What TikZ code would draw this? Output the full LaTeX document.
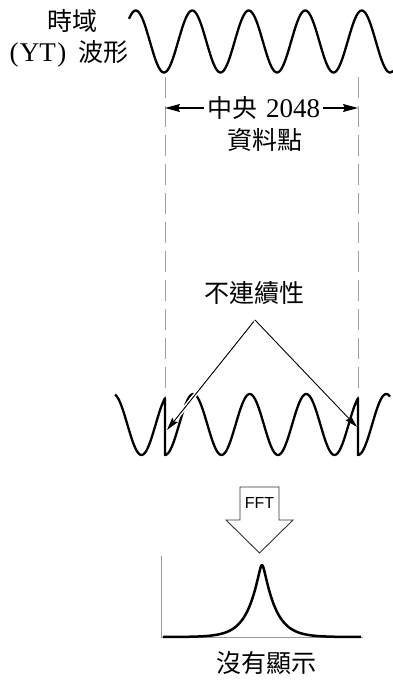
\documentclass[tikz,border=0pt]{standalone}
\usepackage{fontspec}
\setmainfont{Liberation Serif}
\newfontfamily\cjk{Noto Sans CJK TC}
\newfontfamily\sansf{Liberation Sans}
\usetikzlibrary{arrows.meta, positioning, calc}
\tikzset{
    wave/.style={line width=2.3pt, line join=round},
    guide/.style={draw=gray!75, line width=0.9pt, dash pattern=on 21pt off 8pt},
    span/.style={line width=1.1pt, -{Stealth[length=15pt,width=8pt,inset=2pt]}},
    pointer/.style={line width=0.9pt, -{Stealth[length=13pt,width=7pt,inset=2pt]},
        preaction={draw=white, line width=4pt, -, shorten >=14pt}},
    cjktext/.style={font=\cjk\fontsize{25}{30}\selectfont, inner sep=3pt},
    fftarrow/.style={draw=black!80, line width=0.9pt, line join=miter},
    axis/.style={draw=gray!80, line width=1pt},
    spectrum/.style={line width=2.5pt, line join=round}
}
\begin{document}
\begin{tikzpicture}[x=1pt, y=-1pt]
    \useasboundingbox (0,0) rectangle (393,683);
    \def\per{56.5}
    % time record
    \node[cjktext] (domainA) at (72,21) {時域};
    \node[cjktext] (domainB) at (69,54) {{\rmfamily\fontsize{27}{30}\selectfont (\kern1.5pt YT\kern1.5pt)}\hspace{12pt}波形};
    \draw[wave] plot[domain=129:393, samples=240] (\x, {41.5+31*cos((\x-164)/\per*360)});

    \coordinate (glTop) at (165,77);
    \coordinate (glBot) at (165,400);
    \coordinate (grTop) at (358,77);
    \coordinate (grBot) at (358,400);
    \draw[guide] (glTop) -- (glBot);
    \draw[guide] (grTop) -- (grBot);

    \node[cjktext] (middle) at (263.5,108) {中央\hspace{9pt}{\rmfamily\fontsize{27}{30}\selectfont 2048}};
    \draw[span] (middle.west) -- (middle.west -| glTop);
    \draw[span] (middle.east) -- (middle.east -| grTop);
    \node[cjktext] (points) at (265,140) {資料點};

    % repeated record
    \draw[wave] plot[domain=115:165, samples=60] (\x, {424.5+30.5*cos((\x+193-165)/\per*360)})
        -- plot[domain=165:358, samples=200] (\x, {424.5+30.5*cos((\x-165)/\per*360)})
        -- plot[domain=358:390, samples=40] (\x, {424.5+30.5*cos((\x-358)/\per*360)});

    \node[cjktext] (disc) at (254,293) {不連續性};
    \coordinate (apex) at (255,320);
    \coordinate (jumpL) at (167,430);
    \coordinate (jumpR) at (357,427);
    \draw[pointer] (apex) -- (jumpL);
    \draw[pointer] (apex) -- (jumpR);

    % FFT
    \draw[fftarrow] (240,487) -- (279,487) -- (279,520) -- (293,520) -- (259.5,553)
        -- (226,520) -- (240,520) -- cycle;
    \node[font=\sansf\fontsize{16}{18}\selectfont] (fft) at (259.5,503) {FFT};

    \draw[axis] (161,556) -- (161,637) -- (363,637);
    \draw[spectrum] plot[domain=163:361, samples=300]
        (\x, {637-72*exp(-(sqrt((\x-262)*(\x-262)+4)-2)/12.5)});
    \node[cjktext] (none) at (266,663) {沒有顯示};
\end{tikzpicture}
\end{document}
